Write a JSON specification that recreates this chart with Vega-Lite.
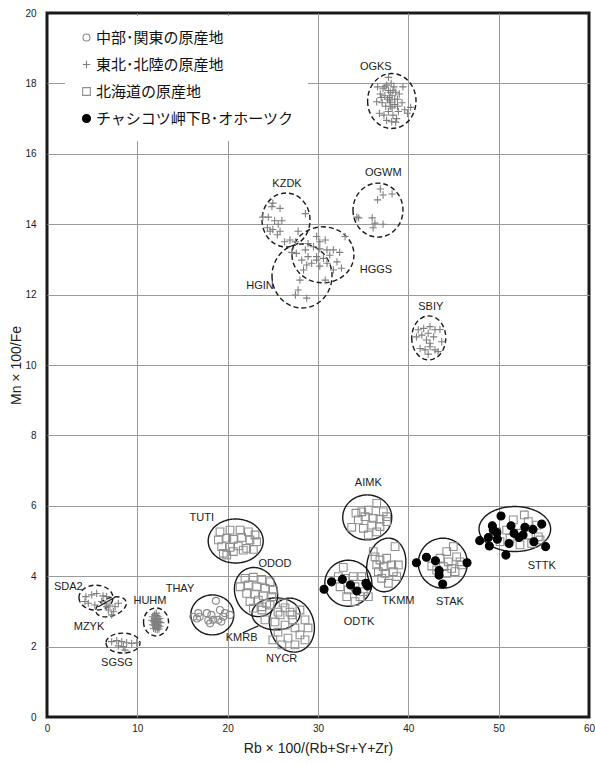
{
  "$schema": "https://vega.github.io/schema/vega-lite/v6.json",
  "width": 542,
  "height": 704,
  "autosize": {"type": "none"},
  "padding": {"left": 47, "top": 13, "right": 6, "bottom": 47},
  "background": "white",
  "config": {
    "view": {"stroke": "#1a1a1a", "strokeWidth": 3},
    "axis": {
      "grid": true, "gridColor": "#9a9a9a", "gridWidth": 1, "domain": false, "ticks": false,
      "labelFont": "Liberation Sans Narrow, Liberation Sans, sans-serif", "labelFontSize": 10, "labelColor": "#222",
      "labelFlush": false, "labelOverlap": false,
      "titleFont": "Liberation Sans", "titleFontSize": 14, "titleFontWeight": "normal", "titleColor": "#222"
    },
    "legend": {
      "orient": "none", "legendX": 18, "legendY": 3, "fillColor": "white", "padding": 14,
      "labelFont": "Noto Sans CJK JP", "labelFontSize": 15, "labelColor": "#111", "labelLimit": 400,
      "rowPadding": 11, "labelOffset": 2, "symbolStrokeWidth": 1.1
    }
  },
  "datasets": {
    "pts": [
      {"src": "北海道の原産地", "site": "TUTI", "x": [19.15,20.26,21.37,22.29,23.03,18.97,19.9,20.63,21.55,22.47,23.2,19.34,20.26,21.18,22.1,22.84,19.52,20.63,21.73,19.9], "y": [5.26,5.31,5.31,5.26,5.17,5.03,5.08,5.05,5.1,5.03,4.98,4.84,4.82,4.86,4.79,4.76,4.65,4.7,4.74,4.6]},
      {"src": "北海道の原産地", "site": "ODOD", "x": [21.92,22.84,23.77,24.69,21.37,22.29,23.21,24.13,25.05,22.1,23.03,23.95,24.88,22.47,23.4,24.32,22.84,23.77], "y": [3.94,3.97,3.91,3.84,3.7,3.75,3.7,3.66,3.61,3.51,3.49,3.44,3.42,3.28,3.32,3.23,3.09,3.13]},
      {"src": "北海道の原産地", "site": "KMRB", "x": [23.8,24.69,25.57,26.35,27.12,24.13,25.24,26.13], "y": [3.04,3.18,2.98,3.1,2.9,2.76,2.7,3.24]},
      {"src": "北海道の原産地", "site": "NYCR", "x": [25.8,26.9,28.0,28.56,26.35,27.45,25.57,26.68,28.0,26.0,27.45,28.56,27.2,28.9,25.0], "y": [2.9,2.98,3.04,2.76,2.61,2.53,2.41,2.24,2.33,2.05,2.05,2.19,2.76,2.53,2.19]},
      {"src": "北海道の原産地", "site": "AIMK", "x": [34.84,35.57,36.5,37.23,34.46,35.2,36.12,36.86,37.6,33.73,35.02,35.95,36.86,35.57,36.5,37.6,34.2], "y": [5.83,5.88,6.07,5.83,5.6,5.69,5.64,5.62,5.69,5.39,5.36,5.45,5.41,5.17,5.26,5.55,5.79]},
      {"src": "北海道の原産地", "site": "TKMM", "x": [36.31,36.86,37.6,38.53,36.5,37.23,38.16,38.89,36.68,37.42,38.34,37.05,37.79,38.71,36.12], "y": [4.55,4.46,4.51,4.84,4.32,4.27,4.32,4.32,4.13,4.08,4.13,3.94,3.8,3.99,4.7]},
      {"src": "北海道の原産地", "site": "ODTK", "x": [32.8,32.25,33.0,33.9,34.84,32.44,33.36,34.1,35.0,33.18,34.1,34.65,35.57], "y": [4.25,3.99,3.94,3.99,3.99,3.7,3.61,3.7,3.56,3.42,3.28,3.42,3.42]},
      {"src": "北海道の原産地", "site": "STAK", "x": [44.98,44.25,45.35,43.51,44.43,45.72,43.88,44.8,45.9,43.14,44.25,45.17,42.6], "y": [4.84,4.7,4.55,4.51,4.41,4.41,4.27,4.22,4.32,4.18,4.08,4.13,4.29]},
      {"src": "北海道の原産地", "site": "STTK", "x": [52.84,51.62,53.28,54.21,49.78,50.89,52.18,53.28,54.39,51.26,52.36,50.15,53.65,54.58], "y": [5.74,5.6,5.55,5.45,5.26,5.31,5.22,5.17,5.12,5.08,4.89,4.98,4.93,5.03]},
      {"src": "中部･関東の原産地", "site": "THAY", "x": [18.7,16.75,16.2,17.7,18.2,19.15,19.7,20.25,18.4,17.85,18.96,19.5,16.9,16.6,18.05,19.3], "y": [3.3,2.95,2.85,2.95,2.9,3.04,2.95,2.9,2.76,2.74,2.76,2.85,2.85,2.8,2.66,2.71]},
      {"src": "東北･北陸の原産地", "site": "OGKS", "x": [37.8,38.1,37.6,38.4,37.2,37.8,38.6,39.0,36.9,37.4,38.2,37.7,38.8,36.5,37.1,38.0,38.5,39.3,37.5,38.2,36.8,37.8,38.9,39.6,37.3,38.3,38.7,40.26,37.6,38.16,38.5,37.9,38.3,37.0,39.4,36.6,38.0,38.6,39.9,37.4,38.8,38.0,37.95], "y": [18.17,18.0,17.95,17.9,17.85,17.8,17.75,17.7,17.7,17.65,17.65,17.55,17.55,17.48,17.45,17.45,17.4,17.45,17.35,17.3,17.15,17.2,17.2,17.25,17.1,17.1,17.0,17.32,16.95,16.91,17.55,17.6,17.8,17.6,17.9,17.9,17.35,16.9,17.15,17.9,17.35,17.75,17.5]},
      {"src": "東北･北陸の原産地", "site": "OGWM", "x": [36.9,37.2,38.2,36.6,34.3,34.5,36.0,36.3,37.2,36.1], "y": [15.0,14.83,14.86,14.69,14.2,14.18,14.18,14.03,14.0,13.9]},
      {"src": "東北･北陸の原産地", "site": "KZDK", "x": [25.0,25.8,24.9,23.9,24.5,25.2,26.0,28.6,24.4,25.0,25.6,25.8,24.7,26.9,26.3,27.8,27.5,25.5], "y": [14.6,14.45,14.5,14.2,14.2,14.1,14.1,14.3,13.9,13.85,14.0,13.8,13.8,13.55,13.5,13.8,13.5,13.7]},
      {"src": "東北･北陸の原産地", "site": "HGGS", "x": [29.85,30.8,30.2,33.0,28.9,29.5,30.2,31.0,31.7,32.4,27.1,27.6,28.6,28.9,29.85,30.6,31.3,32.1,32.6,28.2,29.3,30.2,31.0,31.7,28.4,28.0,30.8,27.5,28.75,27.8,29.85,28.75], "y": [13.65,13.55,13.5,13.65,13.45,13.36,13.3,13.27,13.27,13.2,13.2,13.17,13.27,13.08,13.08,13.03,13.12,12.93,12.75,12.98,12.89,12.81,12.89,12.7,12.7,12.41,12.41,11.99,11.9,12.13,12.98,12.84]},
      {"src": "東北･北陸の原産地", "site": "SBIY", "x": [41.1,41.7,42.4,42.95,43.5,41.5,42.2,42.8,42.0,42.4,43.7,41.3,41.85,42.4,42.95,43.3,42.2,40.9], "y": [11.0,11.04,11.09,11.0,11.01,10.85,10.9,10.8,10.71,10.62,10.66,10.47,10.43,10.52,10.43,10.38,10.31,10.8]},
      {"src": "東北･北陸の原産地", "site": "SDA2", "x": [4.3,4.95,5.5,6.2,6.6,4.57,5.3,6.05,4.2], "y": [3.42,3.47,3.51,3.44,3.42,3.23,3.18,3.28,3.28]},
      {"src": "東北･北陸の原産地", "site": "MZYK", "x": [6.42,6.97,7.53,6.79,7.34,7.16,7.9,6.6], "y": [3.23,3.18,3.13,3.04,2.99,2.9,3.23,3.13]},
      {"src": "東北･北陸の原産地", "site": "HUHM", "x": [11.7,11.9,12.1,12.3,12.5,11.6,11.8,12.0,12.2,12.4,12.6,11.7,11.9,12.1,12.3,12.5,11.8,12.0,12.2,12.4,12.1,12.0,12.2,11.9,12.3], "y": [2.85,2.9,2.88,2.85,2.8,2.75,2.72,2.75,2.7,2.72,2.68,2.62,2.6,2.63,2.6,2.58,2.52,2.5,2.48,2.5,2.95,2.68,2.78,2.8,2.55]},
      {"src": "東北･北陸の原産地", "site": "SGSG", "x": [7.16,7.72,8.27,8.82,9.38,9.93,8.45,7.9,8.64], "y": [2.14,2.17,2.14,2.11,2.09,2.11,2.0,2.02,1.9]},
      {"src": "チャシコツ岬下B･オホーツク", "site": "ODTK", "x": [30.67,31.5,32.7,33.6,34.3,35.5,35.3], "y": [3.63,3.84,3.91,3.75,3.58,3.72,3.8]},
      {"src": "チャシコツ岬下B･オホーツク", "site": "STAK", "x": [40.9,42.0,43.0,43.4,43.4,43.8,46.5], "y": [4.38,4.54,4.44,4.16,4.03,3.78,4.38]},
      {"src": "チャシコツ岬下B･オホーツク", "site": "STTK", "x": [50.26,49.3,49.8,48.86,49.85,51.37,52.9,53.8,54.77,52.7,51.15,53.9,55.2,50.8,47.9,48.97,52.25,49.4,51.7], "y": [5.71,5.43,5.24,5.1,5.05,5.43,5.39,5.33,5.48,5.17,4.93,4.98,4.84,4.6,5.01,4.86,5.1,5.31,5.22]}
    ],
    "ell": [
      {"name": "OGKS", "x": 38.17, "y": 17.5, "line": "dashed"},
      {"name": "OGWM", "x": 36.64, "y": 14.4, "line": "dashed"},
      {"name": "KZDK", "x": 26.46, "y": 14.12, "line": "dashed"},
      {"name": "HGGS", "x": 30.55, "y": 13.13, "line": "dashed"},
      {"name": "HGIN", "x": 28.23, "y": 12.53, "line": "dashed"},
      {"name": "SBIY", "x": 42.26, "y": 10.77, "line": "dashed"},
      {"name": "SDA2", "x": 5.42, "y": 3.39, "line": "dashed"},
      {"name": "MZYK", "x": 7.09, "y": 3.13, "line": "dashed"},
      {"name": "HUHM", "x": 12.07, "y": 2.7, "line": "dashed"},
      {"name": "SGSG", "x": 8.41, "y": 2.1, "line": "dashed"},
      {"name": "THAY", "x": 18.3, "y": 2.9, "line": "solid"},
      {"name": "TUTI", "x": 20.89, "y": 5.0, "line": "solid"},
      {"name": "ODOD", "x": 23.14, "y": 3.55, "line": "solid"},
      {"name": "KMRB", "x": 25.35, "y": 2.93, "line": "solid"},
      {"name": "NYCR", "x": 27.12, "y": 2.61, "line": "solid"},
      {"name": "AIMK", "x": 35.45, "y": 5.67, "line": "solid"},
      {"name": "TKMM", "x": 37.56, "y": 4.32, "line": "solid"},
      {"name": "ODTK", "x": 33.36, "y": 3.8, "line": "solid"},
      {"name": "STAK", "x": 43.82, "y": 4.37, "line": "solid"},
      {"name": "STTK", "x": 51.79, "y": 5.34, "line": "solid"}
    ],
    "lab": [
      {"t": "OGKS", "x": 36.4, "y": 18.46}, {"t": "OGWM", "x": 37.23, "y": 15.45},
      {"t": "KZDK", "x": 26.57, "y": 15.14}, {"t": "HGGS", "x": 36.42, "y": 12.7},
      {"t": "HGIN", "x": 23.58, "y": 12.24}, {"t": "SBIY", "x": 42.48, "y": 11.66},
      {"t": "SDA2", "x": 2.36, "y": 3.68}, {"t": "MZYK", "x": 4.65, "y": 2.56},
      {"t": "HUHM", "x": 11.4, "y": 3.3}, {"t": "SGSG", "x": 7.75, "y": 1.54},
      {"t": "THAY", "x": 14.72, "y": 3.64}, {"t": "TUTI", "x": 17.13, "y": 5.64},
      {"t": "ODOD", "x": 25.24, "y": 4.35}, {"t": "KMRB", "x": 21.55, "y": 2.24},
      {"t": "NYCR", "x": 25.98, "y": 1.64}, {"t": "AIMK", "x": 35.57, "y": 6.64},
      {"t": "TKMM", "x": 38.89, "y": 3.3}, {"t": "ODTK", "x": 34.54, "y": 2.69},
      {"t": "STAK", "x": 44.61, "y": 3.28}, {"t": "STTK", "x": 54.77, "y": 4.29}
    ],
    "lead": [
      {"x": 21.67, "y": 2.39, "x2": 23.4, "y2": 2.59},
      {"x": 5.68, "y": 3.13, "x2": 7.53, "y2": 3.4}
    ]
  },
  "encoding": {
    "x": {
      "field": "x", "type": "quantitative",
      "scale": {"domain": [0, 60], "nice": false, "zero": false},
      "axis": {
        "values": [0, 10, 20, 30, 40, 50, 60], "labelPadding": 6, "titlePadding": 8,
        "title": "Rb × 100/(Rb+Sr+Y+Zr)",
        "gridOpacity": {"condition": {"test": "datum.value == 0 || datum.value == 60", "value": 0}, "value": 1}
      }
    },
    "y": {
      "field": "y", "type": "quantitative",
      "scale": {"domain": [0, 20], "nice": false, "zero": false},
      "axis": {
        "values": [0, 2, 4, 6, 8, 10, 12, 14, 16, 18, 20], "labelPadding": 11, "titlePadding": 1,
        "title": "Mn × 100/Fe",
        "gridOpacity": {"condition": {"test": "datum.value == 0 || datum.value == 20", "value": 0}, "value": 1}
      }
    }
  },
  "layer": [
    {
      "data": {"name": "ell"},
      "mark": {"type": "point", "filled": false, "strokeWidth": 1.4, "opacity": 1, "color": "#1a1a1a"},
      "encoding": {
        "shape": {
          "field": "name", "type": "nominal", "legend": null,
          "scale": {
            "domain": ["OGKS","OGWM","KZDK","HGGS","HGIN","SBIY","SDA2","MZYK","HUHM","SGSG","THAY","TUTI","ODOD","KMRB","NYCR","AIMK","TKMM","ODTK","STAK","STTK"],
            "range": [
              "M-2.42,0A2.42,2.75,0,1,0,2.42,0A2.42,2.75,0,1,0,-2.42,0Z",
              "M-2.5,0A2.5,2.7,0,1,0,2.5,0A2.5,2.7,0,1,0,-2.5,0Z",
              "M-2.4,0A2.4,2.7,0,1,0,2.4,0A2.4,2.7,0,1,0,-2.4,0Z",
              "M-3.1,0A3.1,2.8,0,1,0,3.1,0A3.1,2.8,0,1,0,-3.1,0Z",
              "M-3,0A3,3.2,0,1,0,3,0A3,3.2,0,1,0,-3,0Z",
              "M-1.7,0A1.7,2.2,0,1,0,1.7,0A1.7,2.2,0,1,0,-1.7,0Z",
              "M-1.7,0A1.7,1.25,0,1,0,1.7,0A1.7,1.25,0,1,0,-1.7,0Z",
              "M-1.504,0.547A1.6,0.9,-20,1,0,1.504,-0.547A1.6,0.9,-20,1,0,-1.504,0.547Z",
              "M-1.25,0A1.25,1.4,0,1,0,1.25,0A1.25,1.4,0,1,0,-1.25,0Z",
              "M-1.7,0A1.7,1,0,1,0,1.7,0A1.7,1,0,1,0,-1.7,0Z",
              "M-2.15,0A2.15,2,0,1,0,2.15,0A2.15,2,0,1,0,-2.15,0Z",
              "M-2.75,0A2.75,2.2,0,1,0,2.75,0A2.75,2.2,0,1,0,-2.75,0Z",
              "M-1.973,0.718A2.1,2.45,-20,1,0,1.973,-0.718A2.1,2.45,-20,1,0,-1.973,0.718Z",
              "M-2.4,0A2.4,1.6,0,1,0,2.4,0A2.4,1.6,0,1,0,-2.4,0Z",
              "M-2.125,0.569A2.2,2.7,-15,1,0,2.125,-0.569A2.2,2.7,-15,1,0,-2.125,0.569Z",
              "M-2.45,0A2.45,2.25,0,1,0,2.45,0A2.45,2.25,0,1,0,-2.45,0Z",
              "M-1.901,-0.335A1.93,2.7,10,1,0,1.901,0.335A1.93,2.7,10,1,0,-1.901,-0.335Z",
              "M-2.35,0A2.35,2.3,0,1,0,2.35,0A2.35,2.3,0,1,0,-2.35,0Z",
              "M-2.45,0A2.45,2.5,0,1,0,2.45,0A2.45,2.5,0,1,0,-2.45,0Z",
              "M-3.58,0A3.58,2.25,0,1,0,3.58,0A3.58,2.25,0,1,0,-3.58,0Z"
            ]
          }
        },
        "strokeDash": {"field": "line", "type": "nominal", "legend": null, "scale": {"domain": ["dashed", "solid"], "range": [[5, 3], [1, 0]]}},
        "size": {"value": 400}
      }
    },
    {
      "data": {"name": "pts"},
      "transform": [{"flatten": ["x", "y"]}],
      "mark": {"type": "point", "opacity": 1, "strokeWidth": 1.1},
      "encoding": {
        "shape": {
          "field": "src", "type": "nominal", "title": null,
          "scale": {"domain": ["中部･関東の原産地", "東北･北陸の原産地", "北海道の原産地", "チャシコツ岬下B･オホーツク"], "range": ["circle", "M-1,0L1,0M0,-1L0,1", "square", "circle"]}
        },
        "fill": {
          "field": "src", "type": "nominal", "title": null,
          "scale": {"domain": ["中部･関東の原産地", "東北･北陸の原産地", "北海道の原産地", "チャシコツ岬下B･オホーツク"], "range": ["transparent", "transparent", "transparent", "#000000"]}
        },
        "stroke": {
          "field": "src", "type": "nominal", "title": null,
          "scale": {"domain": ["中部･関東の原産地", "東北･北陸の原産地", "北海道の原産地", "チャシコツ岬下B･オホーツク"], "range": ["#8a8a8a", "#7f7f7f", "#8f8f8f", "#000000"]}
        },
        "size": {
          "field": "src", "type": "nominal", "title": null,
          "scale": {"domain": ["中部･関東の原産地", "東北･北陸の原産地", "北海道の原産地", "チャシコツ岬下B･オホーツク"], "range": [49, 64, 64, 110]}
        }
      }
    },
    {
      "data": {"name": "lead"},
      "mark": {"type": "rule", "color": "#1a1a1a", "strokeWidth": 1.2},
      "encoding": {"x2": {"field": "x2"}, "y2": {"field": "y2"}}
    },
    {
      "data": {"name": "lab"},
      "mark": {"type": "text", "font": "Liberation Sans", "fontSize": 11, "color": "#222"},
      "encoding": {"text": {"field": "t"}}
    }
  ],
  "resolve": {"scale": {"shape": "independent", "size": "independent", "fill": "independent", "stroke": "independent"}}
}
